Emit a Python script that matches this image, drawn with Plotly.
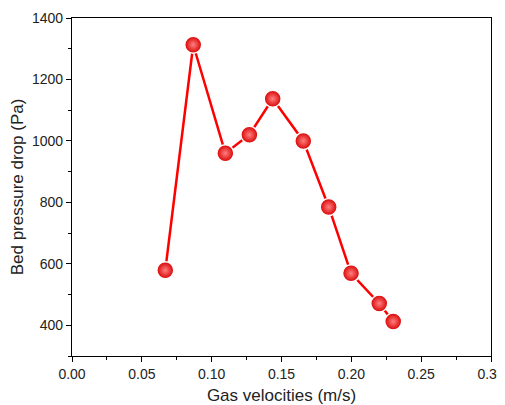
import plotly.graph_objects as go

gas_velocity = [0.0668, 0.0868, 0.1098, 0.127, 0.1437, 0.1656, 0.1838, 0.1998, 0.22, 0.230]
pressure_drop = [579, 1313, 960, 1020, 1137, 1000, 785, 569, 471, 412]

fig = go.Figure()
fig.add_trace(go.Scatter(
    x=gas_velocity, y=pressure_drop, mode="lines+markers",
    line=dict(color="#ff0000", width=2.5),
    marker=dict(size=17, color="#d80000",
                gradient=dict(type="radial", color="#ff8080"),
                line=dict(color="white", width=1.5)),
    showlegend=False,
))

font_fam = "Liberation Sans, Arial"
axis_common = dict(
    showline=True, linecolor="black", linewidth=1.2, mirror=True,
    ticks="outside", ticklen=5, tickwidth=1, tickcolor="black",
    showgrid=False, zeroline=False, automargin=False,
    tickfont=dict(family=font_fam, size=14, color="#222"),
)
fig.update_xaxes(range=[0, 0.30], dtick=0.05, tickformat=".2f",
                 minor=dict(ticks="outside", ticklen=3, dtick=0.025, tickcolor="black"),
                 title=dict(text="Gas velocities (m/s)", font=dict(family=font_fam, size=17, color="#222"), standoff=12),
                 **axis_common)
fig.update_yaxes(range=[300, 1400], dtick=200, tick0=0,
                 minor=dict(ticks="outside", ticklen=3, dtick=100, tickcolor="black"),
                 title=dict(text="Bed pressure drop (Pa)", font=dict(family=font_fam, size=17, color="#222"), standoff=10),
                 **axis_common)
fig.update_layout(
    width=497, height=397,
    margin=dict(l=64, r=14, t=10, b=49),
    plot_bgcolor="white", paper_bgcolor="white",
)
fig.write_html("out.html")
